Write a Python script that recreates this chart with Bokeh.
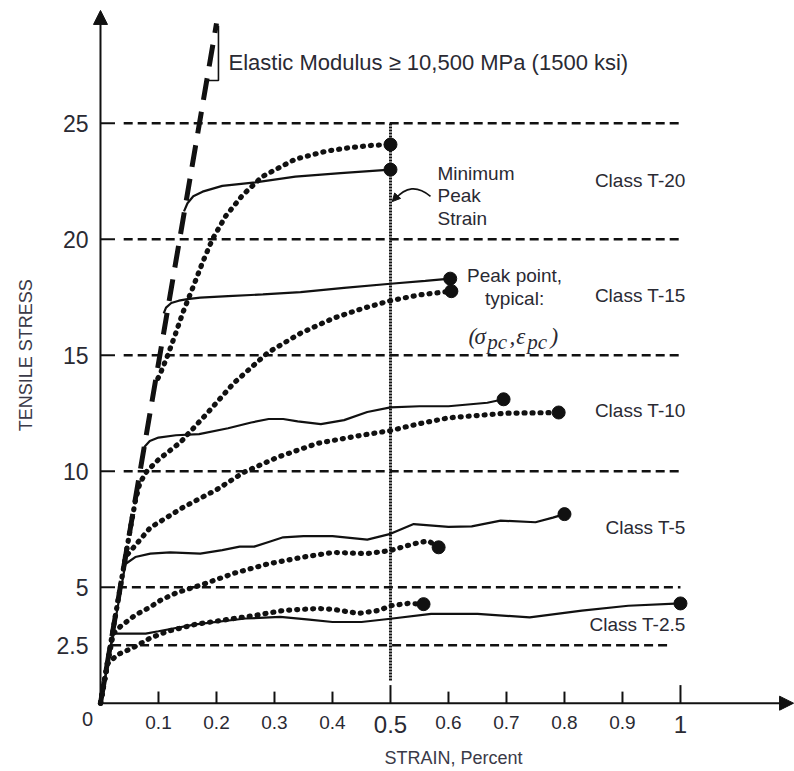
import math
from bokeh.plotting import figure
from bokeh.models import Range1d, Arrow, NormalHead, ColumnDataSource
from bokeh.core.properties import value
from bokeh.embed import file_html
from bokeh.resources import INLINE

# ---------------- data ----------------
x_tick_values = [0.1, 0.2, 0.3, 0.4, 0.5, 0.6, 0.7, 0.8, 0.9, 1.0]
x_tick_labels = ["0.1", "0.2", "0.3", "0.4", "0.5", "0.6", "0.7", "0.8", "0.9", "1"]
y_tick_values = [2.5, 5, 10, 15, 20, 25]
y_tick_labels = ["2.5", "5", "10", "15", "20", "25"]
guide_levels = [2.5, 5, 10, 15, 20, 25]
min_peak_strain = 0.5

elastic_x = [0.0, 0.2]
elastic_y = [0.0, 29.3]

t20_solid_x = [0.144, 0.150, 0.160, 0.176, 0.21, 0.267, 0.336, 0.414, 0.5]
t20_solid_y = [21.2, 21.55, 21.85, 22.05, 22.3, 22.45, 22.7, 22.85, 23.0]
t20_dot_x = [0.099, 0.103, 0.116, 0.129, 0.143, 0.159, 0.176, 0.193, 0.216, 0.245, 0.279, 0.336, 0.39, 0.431, 0.47, 0.5]
t20_dot_y = [14.0, 14.2, 15.0, 15.9, 16.9, 17.9, 19.0, 20.0, 21.0, 21.9, 22.7, 23.45, 23.8, 23.95, 24.05, 24.08]

t15_solid_x = [0.109, 0.113, 0.122, 0.135, 0.15, 0.172, 0.22, 0.28, 0.345, 0.42, 0.5, 0.56, 0.603]
t15_solid_y = [16.8, 17.05, 17.25, 17.35, 17.42, 17.48, 17.55, 17.62, 17.72, 17.9, 18.08, 18.2, 18.3]
t15_dot_x = [0.043, 0.052, 0.06, 0.068, 0.08, 0.1, 0.138, 0.184, 0.23, 0.288, 0.345, 0.402, 0.45, 0.5, 0.55, 0.605]
t15_dot_y = [6.3, 7.6, 8.7, 9.5, 10.0, 10.5, 11.25, 12.5, 13.8, 15.1, 15.95, 16.6, 17.0, 17.35, 17.6, 17.76]

t10_solid_x = [0.072, 0.076, 0.085, 0.1, 0.13, 0.17, 0.22, 0.26, 0.29, 0.315, 0.34, 0.38, 0.42, 0.46, 0.5, 0.55, 0.6, 0.667, 0.695]
t10_solid_y = [10.6, 11.05, 11.3, 11.45, 11.55, 11.6, 11.85, 12.1, 12.25, 12.25, 12.15, 12.03, 12.2, 12.55, 12.75, 12.8, 12.8, 12.95, 13.1]
t10_dot_x = [0.0, 0.043, 0.086, 0.143, 0.2, 0.247, 0.305, 0.374, 0.45, 0.5, 0.55, 0.6, 0.7, 0.79]
t10_dot_y = [0.0, 6.3, 7.57, 8.45, 9.2, 9.95, 10.6, 11.2, 11.55, 11.75, 12.05, 12.3, 12.5, 12.53]

t5_solid_x = [0.0, 0.043, 0.06, 0.086, 0.12, 0.172, 0.21, 0.24, 0.265, 0.29, 0.315, 0.35, 0.4, 0.46, 0.5, 0.54, 0.6, 0.64, 0.69, 0.75, 0.78, 0.8]
t5_solid_y = [0.0, 6.0, 6.3, 6.45, 6.5, 6.45, 6.6, 6.75, 6.75, 6.95, 7.15, 7.2, 7.2, 7.05, 7.3, 7.72, 7.6, 7.62, 7.87, 7.8, 8.0, 8.15]
t5_dot_x = [0.0, 0.022, 0.034, 0.06, 0.086, 0.103, 0.13, 0.18, 0.23, 0.288, 0.35, 0.402, 0.46, 0.5, 0.54, 0.565, 0.583]
t5_dot_y = [0.0, 3.0, 3.3, 3.8, 4.15, 4.43, 4.75, 5.15, 5.6, 6.0, 6.3, 6.5, 6.45, 6.58, 6.87, 7.0, 6.72]

t25_solid_x = [0.0, 0.022, 0.078, 0.1, 0.164, 0.25, 0.31, 0.36, 0.4, 0.45, 0.5, 0.57, 0.65, 0.74, 0.83, 0.91, 1.0]
t25_solid_y = [0.0, 3.0, 3.0, 3.1, 3.4, 3.65, 3.72, 3.6, 3.5, 3.5, 3.64, 3.85, 3.85, 3.7, 3.99, 4.2, 4.3]
t25_dot_x = [0.0, 0.012, 0.03, 0.057, 0.085, 0.116, 0.164, 0.23, 0.27, 0.316, 0.374, 0.4, 0.445, 0.48, 0.5, 0.53, 0.557]
t25_dot_y = [0.0, 1.7, 2.1, 2.4, 2.8, 3.1, 3.4, 3.65, 3.8, 4.0, 4.08, 4.05, 3.87, 4.0, 4.2, 4.3, 4.27]

peak_x = [0.5, 0.5, 0.603, 0.605, 0.695, 0.79, 0.8, 0.583, 1.0, 0.557]
peak_y = [23.0, 24.08, 18.3, 17.76, 13.1, 12.53, 8.15, 6.72, 4.3, 4.27]

class_labels = ["Class T-20", "Class T-15", "Class T-10", "Class T-5", "Class T-2.5"]
class_label_y = [22.53, 17.57, 12.62, 7.57, 3.39]

# ---------------- figure ----------------
INK = "#111111"
TXT = "#2a2a33"
SANS = value("Liberation Sans")

p = figure(width=794, height=771, x_range=Range1d(-0.1724, 1.1966), y_range=Range1d(-2.944, 30.289),
           min_border=0, toolbar_location=None, output_backend="svg",
           x_axis_location=None, y_axis_location=None)
p.grid.visible = False
p.outline_line_color = None
p.background_fill_color = "white"
p.border_fill_color = "white"

# horizontal dashed class boundaries
for lv in guide_levels:
    x0 = 0.02 if lv == 2.5 else (0.03 if lv == 5 else 0.04)
    x1 = 0.985 if lv == 2.5 else 1.0
    p.line([x0, x1], [lv, lv], line_color=INK, line_width=2.4, line_dash="9 5")

# minimum peak strain vertical
p.line([min_peak_strain, min_peak_strain], [0.98, 25.0], line_color=INK, line_width=3, line_dash="2 1")

# elastic modulus line
p.line(elastic_x, elastic_y, line_color=INK, line_width=5, line_dash="22 12")
p.line([0.184, 0.2034, 0.2034], [26.84, 26.84, 29.2], line_color=INK, line_width=1.6)

# curves
solids = [(t20_solid_x, t20_solid_y), (t15_solid_x, t15_solid_y), (t10_solid_x, t10_solid_y),
          (t5_solid_x, t5_solid_y), (t25_solid_x, t25_solid_y)]
dots = [(t20_dot_x, t20_dot_y), (t15_dot_x, t15_dot_y), (t10_dot_x, t10_dot_y),
        (t5_dot_x, t5_dot_y), (t25_dot_x, t25_dot_y)]
for xs, ys in solids:
    p.line(xs, ys, line_color=INK, line_width=2.2)
for xs, ys in dots:
    p.line(xs, ys, line_color=INK, line_width=5.2, line_dash="1 7", line_cap="round", line_join="round")

p.scatter(peak_x, peak_y, marker="circle", size=13, fill_color=INK, line_color=INK)

# axes
p.add_layout(Arrow(end=NormalHead(size=14, fill_color=INK, line_color=INK), x_start=0, y_start=0,
                   x_end=0, y_end=29.86, line_width=2, line_color=INK))
p.add_layout(Arrow(end=NormalHead(size=14, fill_color=INK, line_color=INK), x_start=0, y_start=0,
                   x_end=1.195, y_end=0, line_width=2, line_color=INK))
# x ticks
for v in x_tick_values:
    h = 0.78 if v in (0.5, 1.0) else 0.5
    p.line([v, v], [0, h], line_color=INK, line_width=2)
# y ticks
for v in y_tick_values:
    if v != 2.5:
        p.line([0, 0.025], [v, v], line_color=INK, line_width=2)

# tick labels
small_x = [v for v, l in zip(x_tick_values, x_tick_labels) if l not in ("0.5", "1")]
small_l = [l for l in x_tick_labels if l not in ("0.5", "1")]
big_x = [v for v, l in zip(x_tick_values, x_tick_labels) if l in ("0.5", "1")]
big_l = [l for l in x_tick_labels if l in ("0.5", "1")]
p.text(small_x, [-0.83] * len(small_x), text=small_l, text_font=SANS, text_font_size="19px",
       text_align="center", text_baseline="middle", text_color=TXT)
p.text(big_x, [-0.92] * len(big_x), text=big_l, text_font=SANS, text_font_size="24px",
       text_align="center", text_baseline="middle", text_color=TXT)
p.text([-0.0207] * len(y_tick_values), y_tick_values, text=y_tick_labels, text_font=SANS,
       text_font_size="23px", text_align="right", text_baseline="middle", text_color=TXT)
p.text([-0.0224], [-0.66], text=["0"], text_font=SANS, text_font_size="20px",
       text_align="center", text_baseline="middle", text_color=TXT)

# axis titles
p.text([0.6086], [-2.38], text=["STRAIN, Percent"], text_font=SANS, text_font_size="18px",
       text_align="center", text_baseline="middle", text_color="#3a3a48")
p.text([-0.129], [15.0], text=["TENSILE STRESS"], text_font=SANS, text_font_size="18px",
       text_align="center", text_baseline="middle", angle=math.pi / 2, text_color="#3a3a48")

# class labels
p.text([1.009] * len(class_labels), class_label_y, text=class_labels, text_font=SANS,
       text_font_size="19px", text_align="right", text_baseline="middle", text_color=TXT)

# annotations
p.text([0.2207], [27.61], text=["Elastic Modulus \u2265 10,500 MPa (1500 ksi)"], text_font=SANS,
       text_font_size="22px", text_align="left", text_baseline="middle", text_color=TXT)
p.text([0.581, 0.581, 0.581], [22.82, 21.88, 20.89], text=["Minimum", "Peak", "Strain"], text_font=SANS,
       text_font_size="19px", text_align="left", text_baseline="middle", text_color=TXT)
p.text([0.714, 0.714], [18.43, 17.44], text=["Peak point,", "typical:"], text_font=SANS,
       text_font_size="19px", text_align="center", text_baseline="middle", text_color=TXT)

sym = ColumnDataSource(dict(
    x=[0.6345, 0.645, 0.667, 0.705, 0.717, 0.736, 0.776],
    y=[15.81, 15.81, 15.59, 15.81, 15.81, 15.59, 15.81],
    t=["(", "\u03c3", "pc", ",", "\u03b5", "pc", ")"],
    s=["23px", "23px", "21px", "23px", "23px", "21px", "23px"],
))
p.text(x="x", y="y", text="t", text_font_size="s", source=sym, text_font=value("Liberation Serif"),
       text_font_style="italic", text_align="left", text_baseline="alphabetic", text_color=TXT)

# "Minimum Peak Strain" pointer
p.quadratic(x0=[0.569], y0=[21.85], x1=[0.508], y1=[21.72], cx=[0.535], cy=[22.55],
            line_color=INK, line_width=1.6)
p.add_layout(Arrow(end=NormalHead(size=8, fill_color=INK, line_color=INK), x_start=0.515, y_start=21.95,
                   x_end=0.503, y_end=21.62, line_alpha=0))

open("out.html", "w").write(file_html(p, INLINE))
